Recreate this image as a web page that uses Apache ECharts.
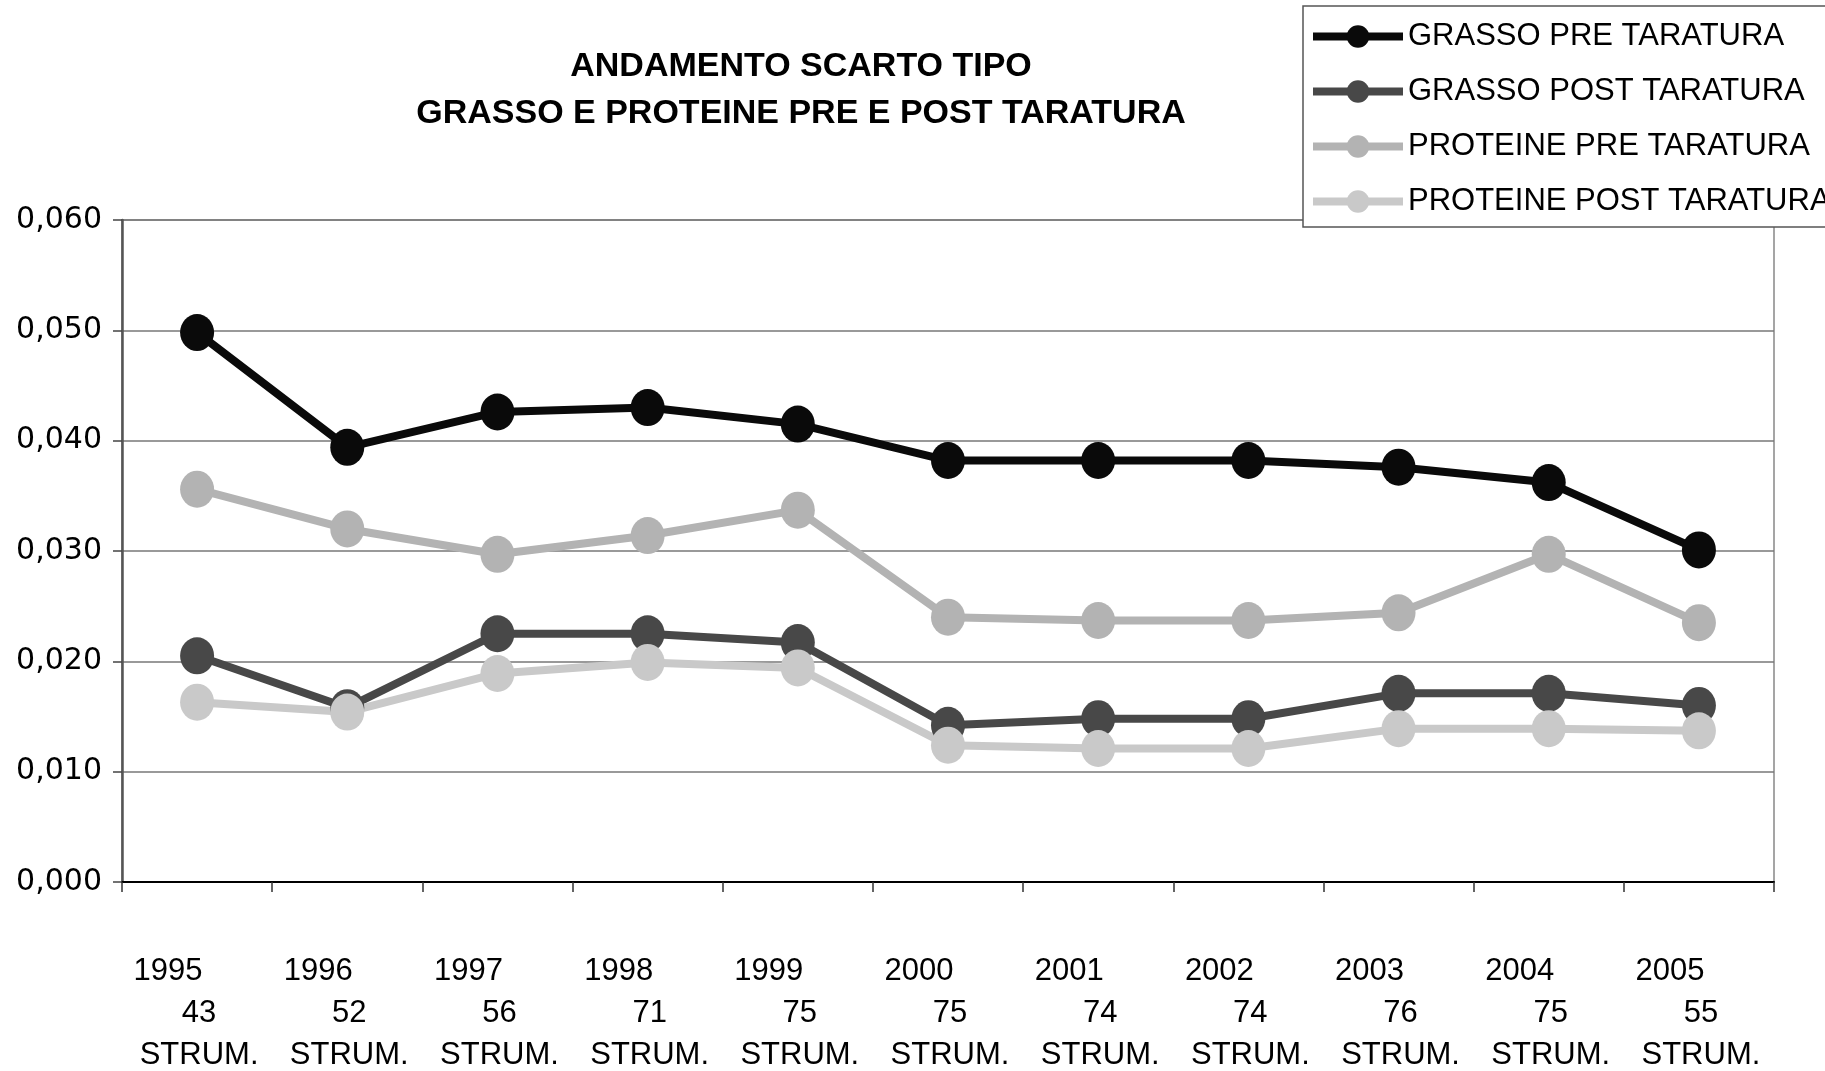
<!DOCTYPE html>
<html>
<head>
<meta charset="utf-8">
<script src="https://cdn.jsdelivr.net/npm/echarts@6/dist/echarts.min.js"></script>
<style>
html, body { margin: 0; padding: 0; background: #fff; }
#chart { width: 1825px; height: 1071px; }
</style>
</head>
<body>
<div id="chart"></div>
<script>
var years = ["1995", "1996", "1997", "1998", "1999", "2000", "2001", "2002", "2003", "2004", "2005"];
var strumenti = ["43", "52", "56", "71", "75", "75", "74", "74", "76", "75", "55"];
var yTicks = [0, 0.01, 0.02, 0.03, 0.04, 0.05, 0.06];

var grassoPre = [0.0498, 0.0394, 0.0426, 0.0430, 0.0415, 0.0382, 0.0382, 0.0382, 0.0376, 0.0362, 0.0301];
var grassoPost = [0.0205, 0.0158, 0.0225, 0.0225, 0.0217, 0.0142, 0.0148, 0.0148, 0.0171, 0.0171, 0.0160];
var proteinePre = [0.0356, 0.0320, 0.0297, 0.0314, 0.0337, 0.0240, 0.0237, 0.0237, 0.0244, 0.0297, 0.0235];
var proteinePost = [0.0163, 0.0154, 0.0189, 0.0199, 0.0194, 0.0124, 0.0121, 0.0121, 0.0139, 0.0139, 0.0137];

var categories = years.map(function (y, i) { return y + "|" + strumenti[i]; });

function serie(name, data, color) {
    return {
        name: name,
        type: "line",
        data: data,
        symbol: "circle",
        symbolSize: [34, 37],
        lineStyle: { color: color, width: 8 },
        itemStyle: { color: color },
        emphasis: { disabled: true },
        animation: false
    };
}

var chart = echarts.init(document.getElementById("chart"));
chart.setOption({
    backgroundColor: "#fff",
    title: {
        text: "ANDAMENTO SCARTO TIPO\nGRASSO E PROTEINE PRE E POST TARATURA",
        left: 796,
        top: 38,
        textAlign: "center",
        textStyle: {
            fontFamily: "Liberation Sans",
            fontWeight: "bold",
            fontSize: 34,
            lineHeight: 47,
            color: "#000"
        }
    },
    legend: {
        orient: "vertical",
        left: 1303,
        top: 6,
        padding: [15, 6, 10, 6],
        itemGap: 24,
        itemWidth: 90,
        itemHeight: 28,
        borderColor: "#555",
        borderWidth: 1.5,
        borderRadius: 0,
        backgroundColor: "#fff",
        lineStyle: { width: 8 },
        textStyle: {
            fontFamily: "Liberation Sans",
            fontSize: 31,
            lineHeight: 31,
            color: "#000"
        }
    },
    grid: {
        left: 122,
        right: 51,
        top: 220,
        bottom: 189,
        show: true,
        borderColor: "#888",
        borderWidth: 1.5,
        containLabel: false
    },
    xAxis: {
        type: "category",
        data: categories,
        boundaryGap: true,
        axisLine: { lineStyle: { color: "#000", width: 2 } },
        axisTick: { show: true, length: 10, lineStyle: { color: "#333", width: 1.5 } },
        axisLabel: {
            interval: 0,
            margin: 68,
            formatter: function (v) {
                var p = v.split("|");
                return "{y|" + p[0] + "}\n{n|" + p[1] + "}\n{s|STRUM.}";
            },
            rich: {
                y: { fontFamily: "Liberation Sans", fontSize: 31, lineHeight: 42, color: "#000", padding: [0, 58, 0, 0] },
                n: { fontFamily: "Liberation Sans", fontSize: 31, lineHeight: 42, color: "#000", padding: [0, 0, 0, 4] },
                s: { fontFamily: "Liberation Sans", fontSize: 31, lineHeight: 42, color: "#000", padding: [0, 0, 0, 4] }
            }
        }
    },
    yAxis: {
        type: "value",
        min: yTicks[0],
        max: yTicks[yTicks.length - 1],
        interval: yTicks[1] - yTicks[0],
        axisLine: { show: true, lineStyle: { color: "#555", width: 2.5 } },
        axisTick: { show: true, length: 9, lineStyle: { color: "#444", width: 1.5 } },
        splitLine: { show: true, lineStyle: { color: "#777", width: 1.5 } },
        axisLabel: {
            margin: 20,
            fontFamily: "DejaVu Sans",
            fontSize: 30,
            color: "#000",
            formatter: function (v) { return v.toFixed(3).replace(".", ","); }
        }
    },
    series: [
        serie("GRASSO PRE TARATURA", grassoPre, "#0a0a0a"),
        serie("GRASSO POST TARATURA", grassoPost, "#484848"),
        serie("PROTEINE PRE TARATURA", proteinePre, "#b3b3b3"),
        serie("PROTEINE POST TARATURA", proteinePost, "#c9c9c9")
    ]
});
</script>
</body>
</html>
